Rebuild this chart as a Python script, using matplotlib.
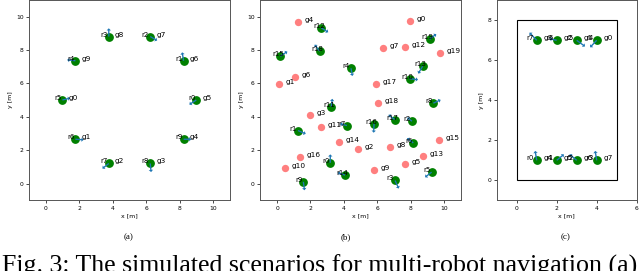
import numpy as np
import matplotlib
matplotlib.use('Agg')
import matplotlib.pyplot as plt

# (a) circle scenario: robots sitting on their goals
a_x = [0.98, 1.76, 3.76, 6.24, 8.24, 9.0, 8.24, 6.24, 3.76, 1.76]
a_y = [5.0, 2.65, 1.2, 1.2, 2.65, 5.0, 7.35, 8.8, 8.8, 7.35]
a_goal = ['g0', 'g1', 'g2', 'g3', 'g4', 'g5', 'g6', 'g7', 'g8', 'g9']
a_rob = ['r5', 'r6', 'r7', 'r8', 'r9', 'r0', 'r1', 'r2', 'r3', 'r4']
a_dx = [0.42, 0.45, -0.35, 0.05, 0.42, -0.38, -0.08, 0.38, 0.0, -0.45]
a_dy = [0.1, -0.03, -0.28, -0.47, 0.0, -0.25, 0.46, -0.22, 0.45, 0.05]

# (b) random scenario: goals (red) and robots (green)
b_gx = [7.96, 0.14, 4.87, 1.96, 1.24, 7.65, 1.10, 6.33, 6.77, 5.81,
        0.50, 2.65, 7.68, 8.74, 3.71, 9.68, 1.36, 5.93, 6.05, 9.78]
b_gy = [9.72, 5.93, 2.07, 4.13, 9.66, 1.14, 6.38, 8.14, 2.19, 0.78,
        0.94, 3.41, 8.18, 1.62, 2.51, 2.61, 1.59, 5.96, 4.85, 7.84]
b_goal = ['g%d' % i for i in range(20)]
b_rx = [2.65, 0.20, 2.56, 4.43, 9.14, 8.72, 7.94, 9.36, 3.25, 1.26,
        4.19, 5.81, 7.05, 8.08, 8.16, 3.19, 4.07, 1.58, 7.07, 9.26]
b_ry = [9.32, 7.62, 7.92, 6.90, 8.64, 7.02, 6.28, 4.81, 4.61, 3.17,
        3.47, 3.59, 3.83, 3.73, 2.43, 1.24, 0.50, 0.10, 0.18, 0.68]
b_rob = ['r12', 'r15', 'r18', 'r4', 'r19', 'r13', 'r10', 'r8', 'r11', 'r1',
         'r7', 'r16', 'r17', 'r2', 'r6', 'r0', 'r14', 'r9', 'r3', 'r5']
b_dx = [0.38, 0.38, -0.28, 0.08, 0.36, -0.24, 0.46, 0.4, 0.06, 0.42,
        -0.38, -0.02, -0.34, -0.26, -0.34, 0.0, -0.4, 0.06, 0.2, -0.36]
b_dy = [-0.24, 0.26, 0.36, -0.42, 0.28, -0.4, -0.06, 0.18, 0.42, -0.18,
        0.1, -0.5, 0.26, 0.2, 0.26, 0.46, 0.14, -0.46, -0.44, -0.28]

# (c) swap scenario inside a room
c_x = [1, 2, 3, 4, 1, 2, 3, 4]
c_y = [7, 7, 7, 7, 1, 1, 1, 1]
c_goal = ['g3', 'g2', 'g1', 'g0', 'g4', 'g5', 'g6', 'g7']
c_rob = ['r7', 'r6', 'r5', 'r4', 'r0', 'r1', 'r2', 'r3']
c_dx = [-0.33, -0.33, 0.38, -0.3, -0.07, 0.33, -0.33, -0.07]
c_dy = [0.35, 0.07, -0.28, -0.32, 0.43, 0.27, 0.27, 0.43]
room = (0, 0, 5, 8)

W, H = 640, 271
fig = plt.figure(figsize=(W / 100, H / 100), dpi=100)


def make_axes(left, bottom, w, h, xlim, ylim, xticks, yticks):
    ax = fig.add_axes([left / W, bottom / H, w / W, h / H])
    ax.set_xlim(*xlim)
    ax.set_ylim(*ylim)
    ax.set_xticks(xticks)
    ax.set_yticks(yticks)
    ax.tick_params(labelsize=4.3, length=2.5, width=0.5, pad=1.5)
    for s in ax.spines.values():
        s.set_linewidth(0.7)
        s.set_color('#555555')
    ax.set_xlabel('x [m]', fontsize=4.5, labelpad=2)
    ax.set_ylabel('y [m]', fontsize=4.5, labelpad=2)
    return ax


def draw_robots(ax, x, y, dx, dy, rnames, gnames=None, gap=0.36, sc=1.0):
    ax.scatter(x, y, s=28, color='green', zorder=3)
    for i in range(len(x)):
        ax.arrow(x[i], y[i], dx[i] * 1.1, dy[i] * 1.1, width=0.08 * sc,
                 head_width=0.26 * sc, head_length=0.13 * sc,
                 length_includes_head=True, color='#1f77b4', lw=0, zorder=3.5)
    for i in range(len(x)):
        ax.text(x[i] - 0.5, y[i], rnames[i], fontsize=5, zorder=4)
        if gnames is not None:
            ax.text(x[i] + gap, y[i], gnames[i], fontsize=5.3, zorder=4)


ax1 = make_axes(29.3, 70.8, 200.4, 200.4, (-1, 11), (-1, 11),
                range(0, 11, 2), range(0, 11, 2))
draw_robots(ax1, a_x, a_y, a_dx, a_dy, a_rob, a_goal)

ax2 = make_axes(260.3, 70.8, 200.4, 200.4, (-1, 11), (-1, 11),
                range(0, 11, 2), range(0, 11, 2))
ax2.scatter(b_gx, b_gy, s=28, color='red', alpha=0.5, lw=0, zorder=3)
for i in range(len(b_gx)):
    ax2.text(b_gx[i] + 0.4, b_gy[i], b_goal[i], fontsize=5.3, zorder=4)
draw_robots(ax2, b_rx, b_ry, b_dx, b_dy, b_rob)

ax3 = make_axes(496.7, 70.7, 140, 200, (-1, 6), (-1, 9),
                range(0, 7, 2), range(0, 9, 2))
ax3.add_patch(plt.Rectangle(room[:2], room[2], room[3], fill=False,
                            ec='black', lw=0.8))
draw_robots(ax3, c_x, c_y, c_dx, c_dy, c_rob, c_goal, gap=0.33, sc=0.85)

for xc, lab in [(129, '(a)'), (346, '(b)'), (566, '(c)')]:
    fig.text(xc / W, 1 - 237 / H, lab, fontsize=6.5, family='Liberation Serif',
             ha='center', va='center')

fig.text(2 / W, 1 - 273 / H,
         'Fig. 3: The simulated scenarios for multi-robot navigation (a)',
         fontsize=18.6, family='Liberation Serif', ha='left', va='baseline')

fig.savefig('out.png', dpi=100)
